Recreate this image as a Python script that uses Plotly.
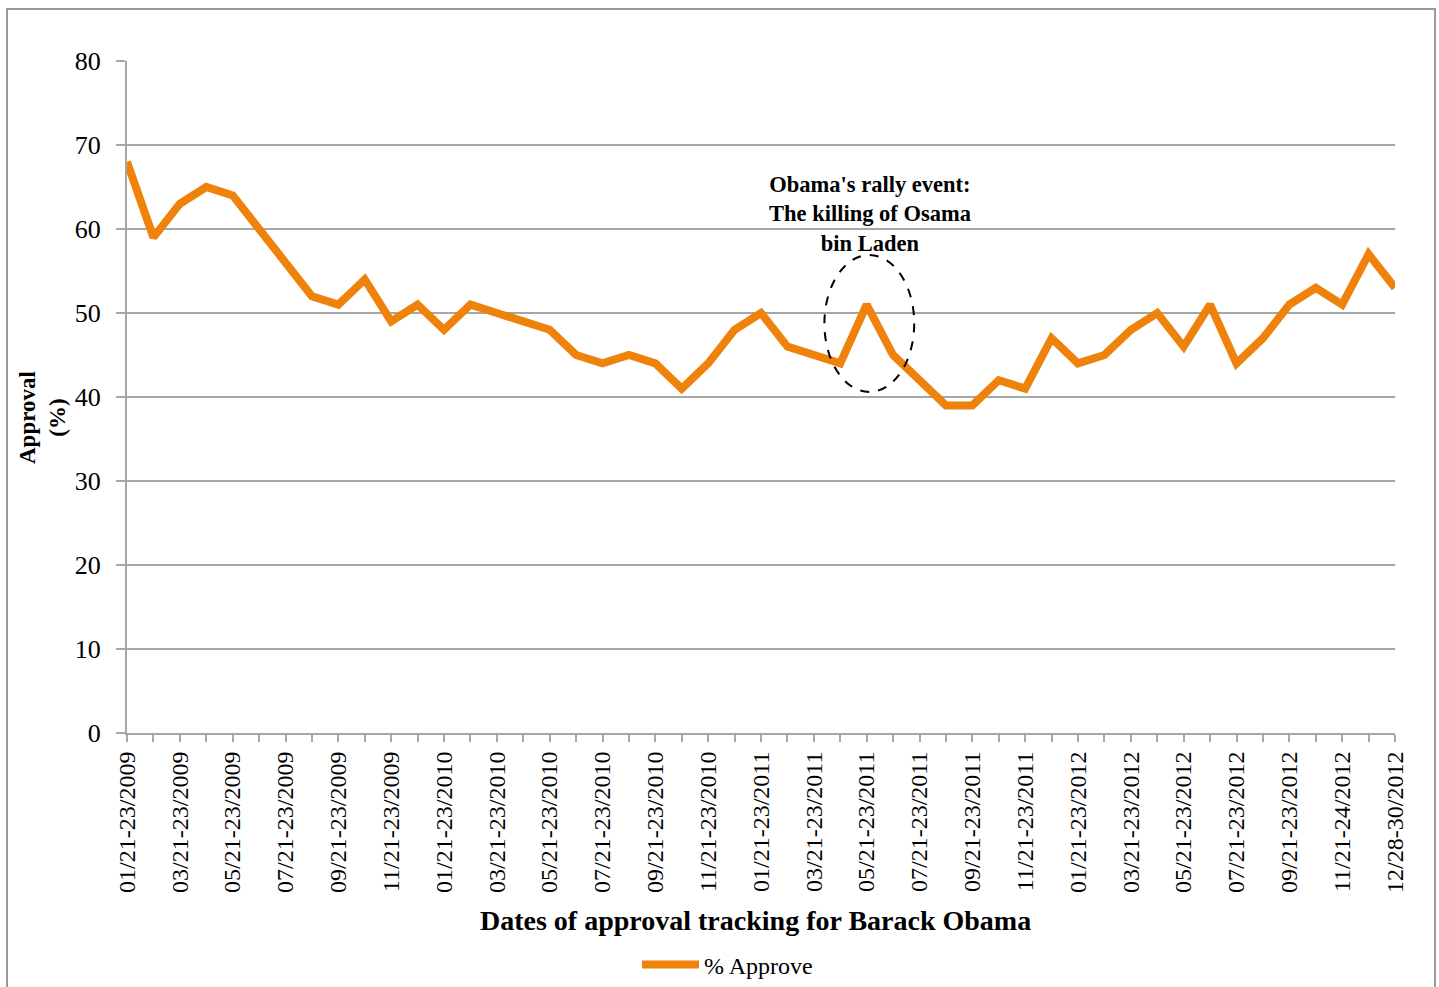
import plotly.graph_objects as go

# Gallup-style tracking dates, one per month (Jan 2009 - Dec 2012)
dates = [
    "01/21-23/2009", "02/21-23/2009", "03/21-23/2009", "04/21-23/2009",
    "05/21-23/2009", "06/21-23/2009", "07/21-23/2009", "08/21-23/2009",
    "09/21-23/2009", "10/21-23/2009", "11/21-23/2009", "12/21-23/2009",
    "01/21-23/2010", "02/21-23/2010", "03/21-23/2010", "04/21-23/2010",
    "05/21-23/2010", "06/21-23/2010", "07/21-23/2010", "08/21-23/2010",
    "09/21-23/2010", "10/21-23/2010", "11/21-23/2010", "12/21-23/2010",
    "01/21-23/2011", "02/21-23/2011", "03/21-23/2011", "04/21-23/2011",
    "05/21-23/2011", "06/21-23/2011", "07/21-23/2011", "08/21-23/2011",
    "09/21-23/2011", "10/21-23/2011", "11/21-23/2011", "12/21-23/2011",
    "01/21-23/2012", "02/21-23/2012", "03/21-23/2012", "04/21-23/2012",
    "05/21-23/2012", "06/21-23/2012", "07/21-23/2012", "08/21-23/2012",
    "09/21-23/2012", "10/21-23/2012", "11/21-24/2012", "12/14-16/2012",
    "12/28-30/2012",
]

approve = [
    68, 59, 63, 65, 64, 60, 56, 52, 51, 54, 49, 51,
    48, 51, 50, 49, 48, 45, 44, 45, 44, 41, 44, 48,
    50, 46, 45, 44, 51, 45, 42, 39, 39, 42, 41, 47,
    44, 45, 48, 50, 46, 51, 44, 47, 51, 53, 51, 57,
    53,
]

# every other date is labelled on the axis
tick_text = [d if i % 2 == 0 else "" for i, d in enumerate(dates)]

W, H = 1439, 987
L, R, T, B = 127, 1395, 61, 733
pw, ph = R - L, B - T


def px_x(x):
    return (x - L) / pw


def px_y(y):
    return (B - y) / ph


serif = "Liberation Serif"
orange = "#EE820A"
grid = "#A6A6A6"

fig = go.Figure()
fig.add_trace(go.Scatter(
    x=dates, y=approve, mode="lines", name="% Approve",
    line=dict(color=orange, width=8, shape="linear"),
))

fig.update_layout(
    width=W, height=H,
    margin=dict(l=L, r=W - R, t=T, b=H - B, autoexpand=False),
    paper_bgcolor="white", plot_bgcolor="white",
    font=dict(family=serif, color="black"),
    showlegend=True,
    legend=dict(
        orientation="h", x=px_x(637), xanchor="left",
        y=px_y(965), yanchor="middle",
        font=dict(family=serif, size=24, color="black"),
        itemwidth=57, bgcolor="rgba(0,0,0,0)",
    ),
    xaxis=dict(
        type="category", range=[0, len(dates) - 1], automargin=False,
        tickmode="array", tickvals=dates, ticktext=tick_text,
        tickangle=-90, ticks="outside", ticklen=7, tickcolor=grid,
        tickwidth=2, showline=True, linecolor=grid, linewidth=2,
        showgrid=False, zeroline=False,
        tickfont=dict(family=serif, size=24, color="black"),
    ),
    yaxis=dict(
        range=[0, 80], tickmode="linear", tick0=0, dtick=10,
        automargin=False,
        ticks="outside", ticklen=9, tickcolor=grid, tickwidth=2,
        showline=True, linecolor=grid, linewidth=2,
        showgrid=True, gridcolor=grid, gridwidth=2, zeroline=False,
        tickfont=dict(family=serif, size=26, color="black"),
        ticklabelstandoff=10,
    ),
)

# outer frame around the whole chart (bottom edge runs past the page)
fig.add_shape(
    type="rect", xref="paper", yref="paper",
    x0=px_x(7), x1=px_x(1435), y0=px_y(1010), y1=px_y(9),
    line=dict(color="#9A9A9A", width=2), fillcolor="rgba(0,0,0,0)",
    layer="below",
)

# dashed ring around the May 2011 spike
fig.add_shape(
    type="circle", xref="x", yref="y",
    x0=26.4, x1=29.8, y0=40.6, y1=56.9,
    line=dict(color="black", width=2, dash="dash"),
)

fig.add_annotation(
    text="<b>Obama's rally event:<br>The killing of Osama<br>bin Laden</b>",
    xref="paper", yref="paper", x=px_x(870), y=px_y(214),
    xanchor="center", yanchor="middle", showarrow=False, align="center",
    font=dict(family=serif, size=22.5, color="black"),
)

fig.add_annotation(
    text="<b>Dates of approval tracking for Barack Obama</b>",
    xref="paper", yref="paper", x=px_x(755), y=px_y(921),
    xanchor="center", yanchor="middle", showarrow=False,
    font=dict(family=serif, size=28, color="black"),
)

fig.add_annotation(
    text="<b>Approval<br>(%)</b>",
    xref="paper", yref="paper", x=px_x(42), y=px_y(418),
    xanchor="center", yanchor="middle", showarrow=False,
    textangle=-90, align="center",
    font=dict(family=serif, size=23, color="black"),
)

fig.write_html("out.html")
